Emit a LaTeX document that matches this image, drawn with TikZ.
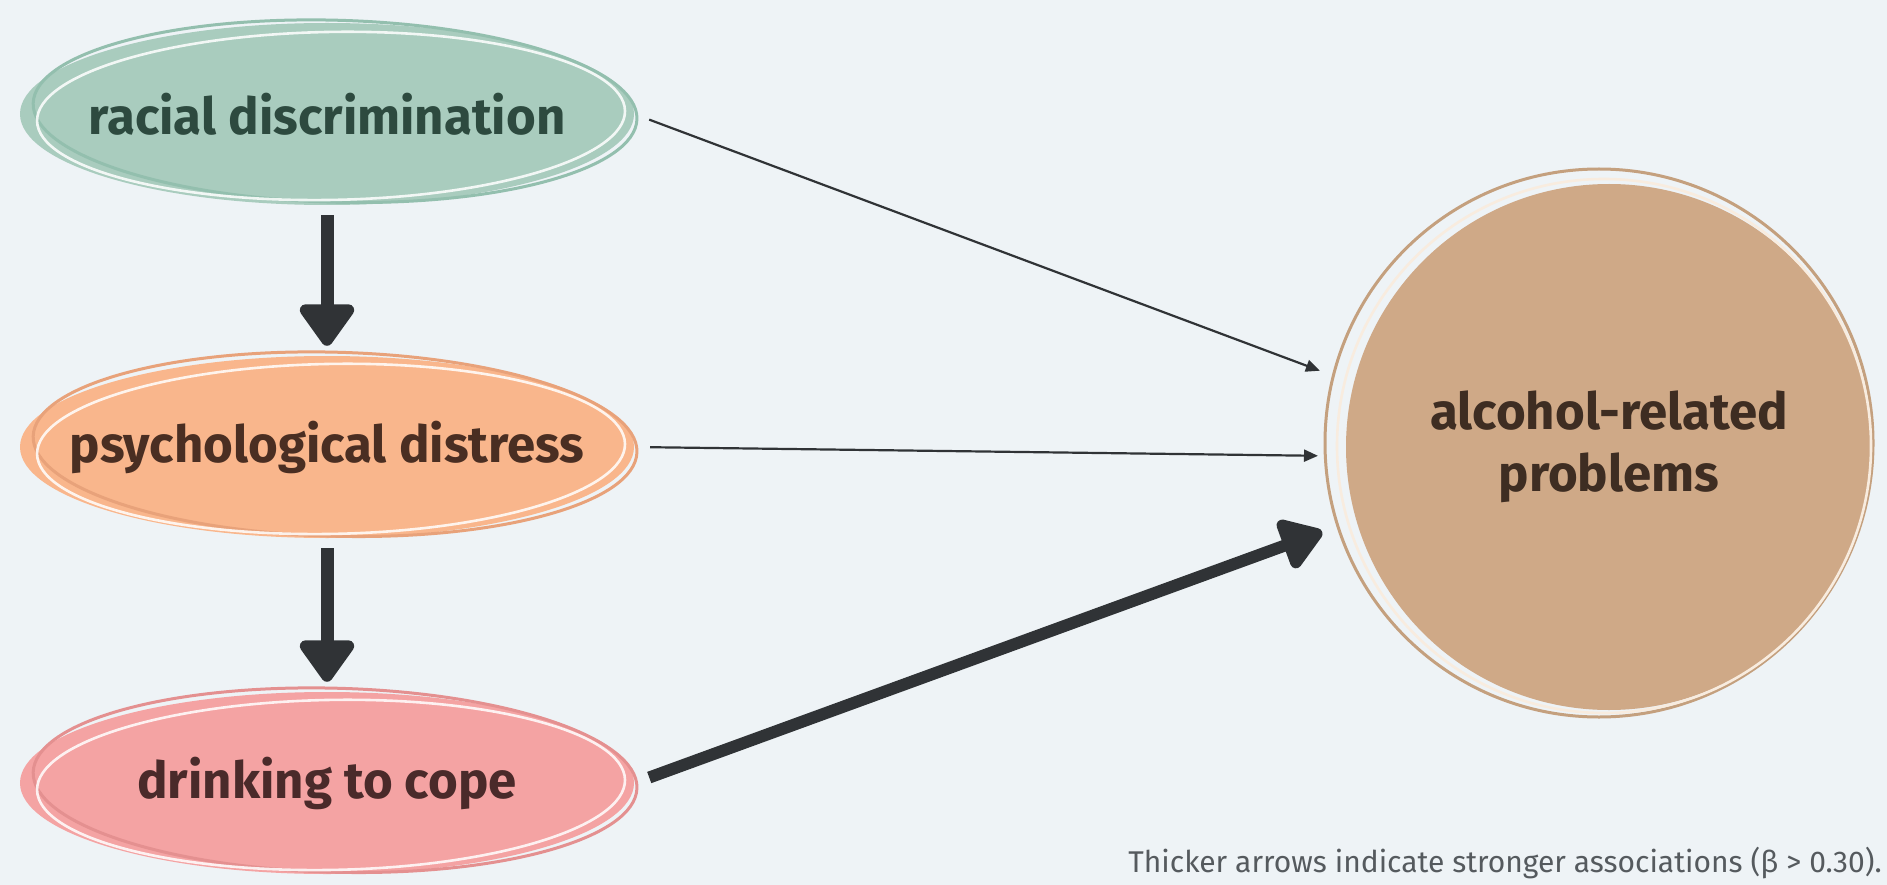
\documentclass[tikz,border=0pt]{standalone}
\usepackage{fontspec}
\setmainfont{Fira Sans}
\usetikzlibrary{arrows.meta,shapes.geometric}
\definecolor{bg}{HTML}{EEF3F6}
\definecolor{gfill}{HTML}{A9CCBE}
\definecolor{gline}{HTML}{93BFAE}
\definecolor{gtext}{HTML}{2D4A3F}
\definecolor{ofill}{HTML}{F9B68C}
\definecolor{oline}{HTML}{E8A27A}
\definecolor{otext}{HTML}{4A2E22}
\definecolor{pfill}{HTML}{F4A3A3}
\definecolor{pline}{HTML}{E49090}
\definecolor{ptext}{HTML}{4A2A2A}
\definecolor{tfill}{HTML}{CFA987}
\definecolor{tline}{HTML}{C4A07E}
\definecolor{tcream}{HTML}{F8ECDF}
\definecolor{ttext}{HTML}{3E2D22}
\definecolor{arr}{HTML}{303336}
\definecolor{capgray}{HTML}{555A5E}
\begin{document}
\begin{tikzpicture}[x=1pt,y=-1pt,
  ell/.style={ellipse, minimum width=614pt, minimum height=182pt, inner sep=0pt, draw=none},
  txt/.style={font=\fontsize{51}{60}\selectfont\bfseries, inner sep=0pt},
  thickarr/.style={draw=arr, line width=13pt, -{Triangle[width=62pt,length=46pt,round]}},
  thinarr/.style={draw=arr, line width=2.2pt, -{Triangle[width=12pt,length=14pt]}},
  sketch/.style={line width=3pt},
  whitesketch/.style={line width=2.6pt, draw=white, opacity=0.85}
]
\fill[bg] (0,0) rectangle (1887,885);
\useasboundingbox (0,0) rectangle (1887,885);

% nodes
\node[ell, fill=gfill, label={[txt, text=gtext]center:racial discrimination}] (rd) at (327,114) {};
\node[ell, fill=ofill, label={[txt, text=otext]center:psychological distress}] (pd) at (327,447) {};
\node[ell, fill=pfill, label={[txt, text=ptext]center:drinking to cope}] (dc) at (327,783) {};
\node[circle, fill=tfill, minimum size=526pt, inner sep=0pt, align=center,
      font=\fontsize{51}{62}\selectfont\bfseries, text=ttext] (arp) at (1609,447) {alcohol-related\\problems};

% sketchy outlines
\begin{scope}[shift={(rd.center)}]
  \draw[sketch, gline, rotate=-1.5] (8,-3) ellipse [x radius=302, y radius=91];
  \draw[whitesketch, rotate=1] (4,2) ellipse [x radius=294, y radius=84];
\end{scope}
\begin{scope}[shift={(pd.center)}]
  \draw[sketch, oline, rotate=-1.5] (8,-3) ellipse [x radius=302, y radius=92];
  \draw[whitesketch, rotate=1] (4,2) ellipse [x radius=294, y radius=85];
\end{scope}
\begin{scope}[shift={(dc.center)}]
  \draw[sketch, pline, rotate=-1.5] (8,-3) ellipse [x radius=302, y radius=92];
  \draw[whitesketch, rotate=1] (4,2) ellipse [x radius=294, y radius=85];
\end{scope}
\begin{scope}[shift={(arp.center)}]
  \draw[sketch, tline] (-10,-4) circle [radius=274];
  \draw[line width=2.6pt, tcream] (-5,-1) circle [radius=267];
\end{scope}

% connectors
\draw[thickarr, shorten <=10pt, shorten >=10pt] (rd.south) -- (pd.north);
\draw[thickarr, shorten <=10pt, shorten >=10pt] (pd.south) -- (dc.north);
\draw[thinarr, shorten <=16pt, shorten >=36pt] (rd.east) -- (arp.166);
\draw[thinarr, shorten <=16pt, shorten >=28pt] (pd.east) -- (arp.182);
\draw[draw=arr, line width=12pt, -{Triangle[width=58pt,length=46pt,round]}, shorten <=16pt, shorten >=36pt] (dc.east) -- (arp.196);

% caption
\node[anchor=base east, inner sep=0pt, font=\fontsize{30}{36}\selectfont, text=capgray] (cap) at (1882,872)
  {Thicker arrows indicate stronger associations (β > 0.30).};
\end{tikzpicture}
\end{document}
